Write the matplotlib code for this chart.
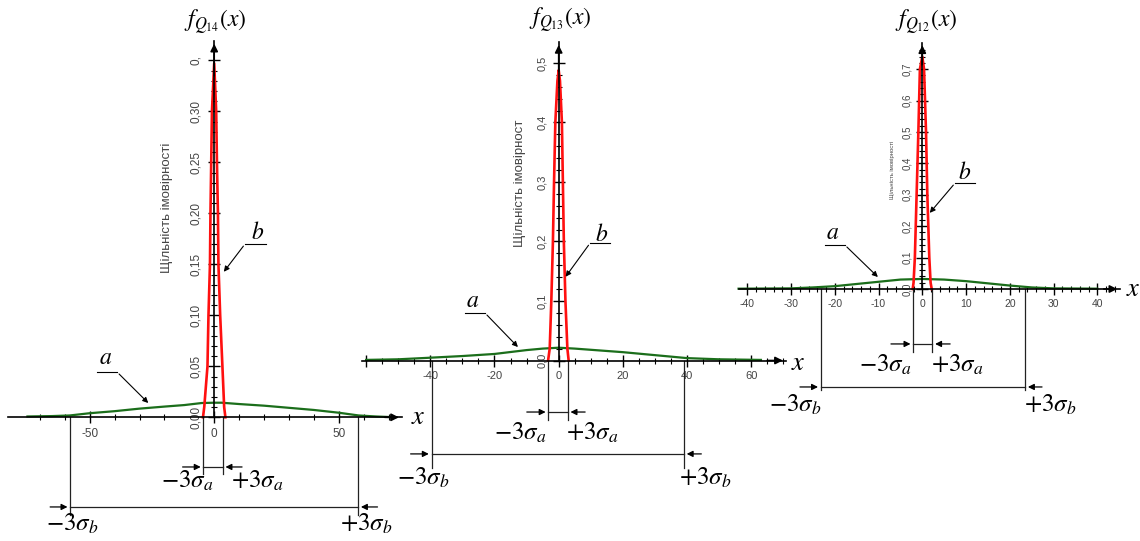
import numpy as np
import matplotlib
matplotlib.use('Agg')
import matplotlib.pyplot as plt

plt.rcParams['mathtext.fontset'] = 'stix'
plt.rcParams['font.family'] = ['Liberation Sans', 'DejaVu Sans']

# ---- data ----
# panel Q14
q14_a_x = [-75, -65, -58, -50, -40, -30, -20, -12, -5, 0, 3, 10, 20, 30, 40, 50, 58, 65, 70]
q14_a_y = [0.0008, 0.0012, 0.0018, 0.004, 0.006, 0.0085, 0.0105, 0.012, 0.014, 0.0143, 0.0143,
           0.013, 0.0114, 0.0093, 0.0072, 0.0045, 0.0018, 0.0008, 0.0003]
q14_b_x = [-4.5, -4.0, -2.7, -2.3, -1.7, -1.5, -1.2, -0.9, 0, 0.8, 1.1, 1.5, 1.7, 2.4, 3.3, 4.0, 4.5]
q14_b_y = [0.0, 0.01, 0.05, 0.10, 0.15, 0.20, 0.25, 0.30, 0.347, 0.30, 0.25, 0.20, 0.15, 0.10, 0.05, 0.01, 0.0]
q14_sig_a = [-4.3, 3.4]
q14_sig_b = [-57.8, 57.8]

# panel Q13
q13_a_x = [-60, -50, -40, -30, -20, -10, -5, 0, 5, 10, 20, 30, 40, 50, 63]
q13_a_y = [0.001, 0.002, 0.0047, 0.0075, 0.011, 0.0175, 0.020, 0.0215, 0.020, 0.018, 0.014, 0.009,
           0.004, 0.002, 0.001]
q13_b_x = [-3.3, -2.8, -2.3, -1.8, -1.45, -1.05, -0.4, 0, 0.4, 1.0, 1.3, 1.6, 2.1, 2.7, 3.1]
q13_b_y = [0, 0.02, 0.10, 0.20, 0.30, 0.40, 0.47, 0.488, 0.47, 0.40, 0.30, 0.20, 0.10, 0.02, 0]
q13_sig_a = [-3.2, 2.8]
q13_sig_b = [-39.6, 39.0]

# panel Q12
q12_a_x = [-42, -30, -25, -20, -15, -10, -5, 0, 5, 10, 15, 20, 25, 30, 40]
q12_a_y = [0.001, 0.002, 0.005, 0.009, 0.016, 0.023, 0.030, 0.032, 0.030, 0.025, 0.018, 0.011,
           0.005, 0.002, 0.001]
q12_b_x = [-2.2, -2.0, -1.7, -1.3, -0.9, -0.55, 0, 0.4, 0.85, 1.15, 1.6, 1.9, 2.15]
q12_b_y = [0, 0.02, 0.10, 0.30, 0.50, 0.70, 0.74, 0.70, 0.50, 0.30, 0.10, 0.02, 0]
q12_sig_a = [-2.06, 2.29]
q12_sig_b = [-23.2, 23.5]

# ticks
q14_xt = [-50, 0, 50]
q14_xtl = ['-50', '0', '50']
q14_xminor = list(range(-70, 71, 10))
q14_yt = [0, 0.05, 0.10, 0.15, 0.20, 0.25, 0.30, 0.35]
q14_ytl = ['0,00', '0,05', '0,10', '0,15', '0,20', '0,25', '0,30', '0,']
q14_yminor = [i / 100 for i in range(0, 36)]

q13_xt = [-60, -40, -20, 0, 20, 40, 60]
q13_xtl = ['', '-40', '-20', '0', '20', '40', '60']
q13_xminor = list(range(-60, 71, 5))
q13_yt = [0, 0.1, 0.2, 0.3, 0.4, 0.5]
q13_ytl = ['0,0', '0,1', '0,2', '0,3', '0,4', '0,5']
q13_yminor = [i / 100 for i in range(0, 52, 2)]

q12_xt = [-40, -30, -20, -10, 0, 10, 20, 30, 40]
q12_xtl = ['-40', '-30', '-20', '-10', '0', '10', '20', '30', '40']
q12_xminor = list(range(-40, 45, 2))
q12_yt = [0, 0.1, 0.2, 0.3, 0.4, 0.5, 0.6, 0.7]
q12_ytl = ['0,0', '0,1', '0,2', '0,3', '0,4', '0,5', '0,6', '0,7']
q12_yminor = [i / 100 for i in range(0, 78, 2)]

W, H = 1140, 541
fig = plt.figure(figsize=(W / 100, H / 100), dpi=100)


def make_axes(x0px, sx, y0px, sy, xlim, ylim):
    left = x0px + xlim[0] * sx
    right = x0px + xlim[1] * sx
    top = y0px - ylim[1] * sy
    bottom = y0px - ylim[0] * sy
    ax = fig.add_axes([left / W, 1 - bottom / H, (right - left) / W, (bottom - top) / H])
    ax.set_xlim(xlim)
    ax.set_ylim(ylim)
    ax.patch.set_alpha(0)
    return ax


def panel(ax, ax_x, ax_y, bx, by, sig_a, sig_b, xt, xtl, xminor, yt, ytl, yminor,
          fsub, ylab, sizes, lay):
    xl = ax.get_xlim()
    yl = ax.get_ylim()
    ax.plot(ax_x, ax_y, color='#1b6e1b', lw=1.6, zorder=2, clip_on=False)
    ax.plot(bx, by, color='#ff1010', lw=1.9, zorder=2, clip_on=False)

    for s in ['top', 'right']:
        ax.spines[s].set_visible(False)
    ax.spines['left'].set_position(('data', 0))
    ax.spines['bottom'].set_position(('data', 0))
    ax.spines['left'].set_linewidth(1.2)
    ax.spines['bottom'].set_linewidth(1.2)
    ax.annotate('', xy=(xl[1], 0), xytext=(xl[1] - (xl[1] - xl[0]) * 0.05, 0),
                arrowprops=dict(arrowstyle='-|>', color='k', lw=1.2, mutation_scale=11),
                annotation_clip=False)
    ax.annotate('', xy=(0, yl[1]), xytext=(0, yl[1] * 0.9),
                arrowprops=dict(arrowstyle='-|>', color='k', lw=1.2, mutation_scale=11),
                annotation_clip=False)

    ax.set_xticks(xt)
    ax.set_xticklabels(xtl, fontsize=sizes[0], color='#444444')
    ax.set_xticks(xminor, minor=True)
    ax.set_yticks(yt)
    ax.set_yticklabels(ytl, fontsize=sizes[1], color='#444444', va='center',
                       bbox=dict(facecolor='white', edgecolor='none', pad=lay['bpad']))
    ax.set_yticks(yminor, minor=True)
    ax.tick_params(which='major', direction='inout', length=9, width=1.0, color='k')
    ax.tick_params(which='minor', direction='inout', length=4.5, width=0.8, color='k')
    ax.tick_params(axis='x', which='major', pad=3)
    ax.tick_params(axis='y', labelrotation=90, pad=lay['ypad'])
    for lbl in ax.get_yticklabels():
        lbl.set_va('center')

    # y label
    ax.text(lay['ylab'][0], lay['ylab'][1], ylab, rotation=90, fontsize=sizes[2],
            color='#444444', ha='center', va='center', clip_on=False)
    # f label and x label
    ax.text(lay['f'][0], lay['f'][1], r'$f_{Q_{%s}}(x)$' % fsub, fontsize=17,
            ha='center', va='center', clip_on=False)
    ax.text(lay['x'][0], lay['x'][1], r'$x$', fontsize=19, ha='center', va='center', clip_on=False)

    # a / b leaders
    for key, txt in [('a', r'$a$'), ('b', r'$b$')]:
        (tx, ty), (h0, h1, hy), (px, py) = lay[key]
        ax.text(tx, ty, txt, fontsize=17, ha='center', va='center', clip_on=False)
        ax.plot([h0, h1], [hy, hy], color='k', lw=0.8, clip_on=False)
        start = h1 if key == 'a' else h0
        ax.annotate('', xy=(px, py), xytext=(start, hy),
                    arrowprops=dict(arrowstyle='-|>', color='k', lw=0.8, mutation_scale=8),
                    annotation_clip=False)

    # sigma dimension lines
    for sig, tag, d in [(sig_a, 'a', lay['da']), (sig_b, 'b', lay['db'])]:
        vbot, yarr, ext0, ext1, ylab_s, lx0, lx1 = d
        for v in sig:
            ax.plot([v, v], [0, vbot], color='#222222', lw=0.9, clip_on=False)
        ax.plot([sig[0], sig[1]], [yarr, yarr], color='#222222', lw=0.9, clip_on=False)
        ax.annotate('', xy=(sig[0], yarr), xytext=(ext0, yarr),
                    arrowprops=dict(arrowstyle='-|>', color='k', lw=0.9, mutation_scale=9),
                    annotation_clip=False)
        ax.annotate('', xy=(sig[1], yarr), xytext=(ext1, yarr),
                    arrowprops=dict(arrowstyle='-|>', color='k', lw=0.9, mutation_scale=9),
                    annotation_clip=False)
        ax.text(lx0, ylab_s, r'$-3\sigma_%s$' % tag, fontsize=18, ha='center', va='center',
                clip_on=False)
        ax.text(lx1, ylab_s, r'$+3\sigma_%s$' % tag, fontsize=18, ha='center', va='center',
                clip_on=False)


# panel 2 (middle) first so panel 1 overlaps it
ax2 = make_axes(558.7, 3.21, 360.5, 595, (-61.3, 70.7), (0, 0.535))
panel(ax2, q13_a_x, q13_a_y, q13_b_x, q13_b_y, q13_sig_a, q13_sig_b,
      q13_xt, q13_xtl, q13_xminor, q13_yt, q13_ytl, q13_yminor,
      '13', 'Щільність імовірност', (8, 8, 9.5),
      dict(ypad=4, bpad=1, ylab=(-12, 0.298), f=(0.4, 0.572), x=(74.5, -0.004),
           a=((-26.7, 0.10), (-29.2, -22.96, 0.0798), (-12.1, 0.0193)),
           b=((13.5, 0.211), (9.8, 16.0, 0.1975), (1.65, 0.137)),
           da=(-0.10, -0.0866, -10.8, 9.1, -0.122, -12, 10.4),
           db=(-0.181, -0.157, -47, 45.3, -0.197, -42.2, 45.6)))

ax1 = make_axes(214.2, 2.49, 417.3, 1020, (-83, 75.3), (0, 0.369))
panel(ax1, q14_a_x, q14_a_y, q14_b_x, q14_b_y, q14_sig_a, q14_sig_b,
      q14_xt, q14_xtl, q14_xminor, q14_yt, q14_ytl, q14_yminor,
      '14', 'Щільність імовірності', (8.5, 8.5, 9.5),
      dict(ypad=4, bpad=3, ylab=(-18.9, 0.205), f=(0.6, 0.387), x=(82, 0),
           a=((-43.8, 0.058), (-47, -39, 0.0444), (-25.7, 0.0121)),
           b=((17.3, 0.181), (12.4, 20.9, 0.170), (3.2, 0.1405)),
           da=(-0.0555, -0.0487, -13.8, 12.3, -0.0627, -10.8, 17.3),
           db=(-0.0958, -0.0879, -67, 66.7, -0.1046, -57, 61)))

ax3 = make_axes(922.3, 4.375, 289, 314, (-41.9, 45.2), (0, 0.785))
panel(ax3, q12_a_x, q12_a_y, q12_b_x, q12_b_y, q12_sig_a, q12_sig_b,
      q12_xt, q12_xtl, q12_xminor, q12_yt, q12_ytl, q12_yminor,
      '12', 'Щільність імовірності', (7.5, 7, 4.2),
      dict(ypad=3, bpad=1, ylab=(-6.9, 0.379), f=(0.85, 0.85), x=(48.2, 0),
           a=((-20.5, 0.178), (-22.3, -17.7, 0.140), (-9.7, 0.032)),
           b=((9.75, 0.369), (7.5, 12.0, 0.3376), (1.3, 0.2357)),
           da=(-0.20, -0.175, -7.8, 7.0, -0.242, -8.5, 7.9),
           db=(-0.322, -0.312, -28.6, 28.0, -0.369, -29.1, 29.2)))

fig.savefig('out.png', dpi=100)
